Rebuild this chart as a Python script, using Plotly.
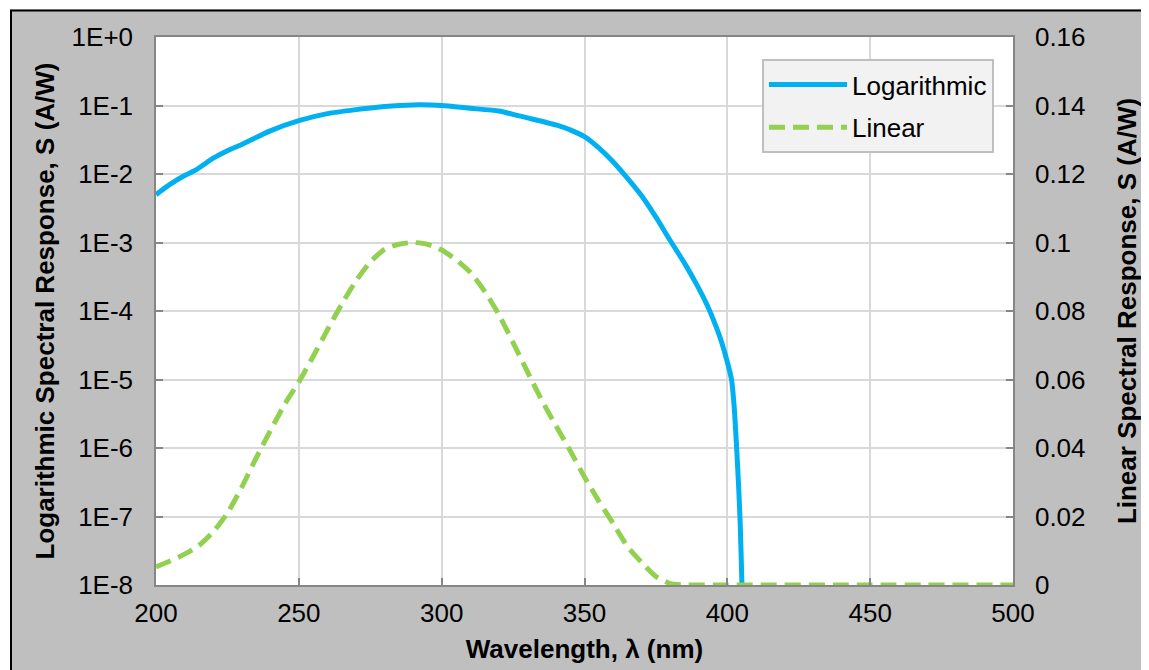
import plotly.graph_objects as go

# ---------------- data ----------------
wavelength_log = [200, 205, 210, 214, 220, 225, 230, 240, 250, 260, 270, 280, 290,
                  300, 310, 320, 330, 340, 345, 350, 355, 360, 365, 370, 375, 380,
                  385, 390, 393, 396, 398, 400, 401.5, 402.5, 403.3, 404, 404.5,
                  405.1, 405.6]
response_log = [5.0e-3, 7.1e-3, 9.5e-3, 1.15e-2, 1.7e-2, 2.19e-2, 2.7e-2, 4.27e-2,
                6.0e-2, 7.6e-2, 8.7e-2, 9.7e-2, 0.102, 0.100, 0.091, 0.083, 0.066,
                0.052, 0.044, 0.035, 0.024, 0.0151, 0.0087, 0.0048, 0.00234,
                0.00107, 5.0e-4, 2.14e-4, 1.2e-4, 6.0e-5, 3.5e-5, 1.8e-5, 9.8e-6,
                3.5e-6, 9.3e-7, 2.5e-7, 8e-8, 1.07e-8, 1e-9]

wavelength_lin = [200, 205, 210, 215, 220, 225, 230, 235, 240, 245, 250, 255, 260,
                  265, 270, 275, 280, 285, 290, 295, 300, 305, 310, 315, 320, 325,
                  330, 335, 340, 345, 350, 355, 360, 365, 370, 375, 380, 385, 400,
                  450, 500]
response_lin = [0.0053, 0.0070, 0.0090, 0.0115, 0.0155, 0.021, 0.0285, 0.037, 0.045,
                0.0527, 0.0593, 0.0667, 0.0745, 0.082, 0.0888, 0.0943, 0.0980,
                0.0995, 0.1000, 0.0995, 0.0978, 0.0950, 0.0913, 0.0858, 0.0790,
                0.0708, 0.0623, 0.0540, 0.0465, 0.0392, 0.0315, 0.0245, 0.0180,
                0.0113, 0.0066, 0.0025, 0.0004, 0.0, 0.0, 0.0, 0.0]

x_tickvals = [200, 250, 300, 350, 400, 450, 500]
log_tickvals = [1e0, 1e-1, 1e-2, 1e-3, 1e-4, 1e-5, 1e-6, 1e-7, 1e-8]
log_ticktext = ["1E+0", "1E-1", "1E-2", "1E-3", "1E-4", "1E-5", "1E-6", "1E-7", "1E-8"]
lin_tickvals = [0, 0.02, 0.04, 0.06, 0.08, 0.1, 0.12, 0.14, 0.16]
lin_ticktext = ["0", "0.02", "0.04", "0.06", "0.08", "0.1", "0.12", "0.14", "0.16"]

# ---------------- layout geometry (figure pixel coords) ----------------
W, H = 1149, 670
L, R, T, B = 148, 1005, 29, 577
PW, PH = R - L, B - T


def px(x):
    return (x - L) / PW


def py(y):
    return (B - y) / PH


FONT = "Liberation Sans, Arial, sans-serif"
FS = 26
GRID = "#d9d9d9"
AXIS = "#868686"
BG = "#bfbfbf"

fig = go.Figure()
fig.add_trace(go.Scatter(
    x=wavelength_log, y=response_log, name="Logarithmic", mode="lines",
    line=dict(color="#00b0f0", width=5, shape="spline", smoothing=0.5),
    yaxis="y", legendgroup="a"))
fig.add_trace(go.Scatter(
    x=wavelength_lin, y=response_lin, name="Linear", mode="lines",
    line=dict(color="#92d050", width=5, dash="16px,8px", shape="spline",
              smoothing=0.6),
    yaxis="y2", legendgroup="b"))

fig.update_layout(
    width=W, height=H,
    margin=dict(l=L, r=W - R, t=T, b=H - B, autoexpand=False),
    paper_bgcolor=BG, plot_bgcolor="white",
    font=dict(family=FONT, size=FS, color="black"),
    xaxis=dict(
        range=[200, 500], tickvals=x_tickvals, showgrid=True, gridcolor=GRID,
        gridwidth=1.5, showline=True, linecolor=AXIS, linewidth=1.5, mirror=True,
        ticks="inside", ticklen=7, tickcolor=AXIS, tickwidth=1.5,
        ticklabelstandoff=4, zeroline=False,
        title=dict(text="<b>Wavelength, λ (nm)</b>", font=dict(size=FS),
                   standoff=13)),
    yaxis=dict(
        type="log", range=[-8, 0], tickvals=log_tickvals, ticktext=log_ticktext,
        showgrid=True, gridcolor=GRID, gridwidth=1.5, showline=True,
        linecolor=AXIS, linewidth=1.5, ticks="inside", ticklen=7,
        tickcolor=AXIS, tickwidth=1.5, ticklabelstandoff=16, zeroline=False,
        title=dict(text="<b>Logarithmic Spectral Response, S (A/W)</b>",
                   font=dict(size=FS), standoff=9)),
    yaxis2=dict(
        overlaying="y", side="right", range=[0, 0.16], tickvals=lin_tickvals,
        ticktext=lin_ticktext, showgrid=False, showline=True, linecolor=AXIS,
        linewidth=1.5, ticks="inside", ticklen=7, tickcolor=AXIS, tickwidth=1.5,
        ticklabelstandoff=15, zeroline=False,
        title=dict(text="<b>Linear Spectral Response, S (A/W)</b>",
                   font=dict(size=FS), standoff=33)),
    legend=dict(
        x=px(754), y=py(51), xanchor="left", yanchor="top",
        bgcolor="#f2f2f2", bordercolor="#bfbfbf", borderwidth=2,
        font=dict(size=FS), itemwidth=78, traceorder="grouped",
        tracegroupgap=6),
    showlegend=True,
)

# outer frame: thin white edge and a black border on the left and top
fig.add_shape(type="rect", xref="paper", yref="paper",
              x0=px(-20), x1=px(2), y0=py(700), y1=py(-20),
              fillcolor="white", line=dict(width=0), layer="above")
fig.add_shape(type="rect", xref="paper", yref="paper",
              x0=px(-20), x1=px(1170), y0=py(1.5), y1=py(-20),
              fillcolor="white", line=dict(width=0), layer="above")
fig.add_shape(type="line", xref="paper", yref="paper",
              x0=px(3), x1=px(3), y0=py(2.5), y1=py(700),
              line=dict(color="black", width=2), layer="above")
fig.add_shape(type="line", xref="paper", yref="paper",
              x0=px(2), x1=px(1170), y0=py(2.5), y1=py(2.5),
              line=dict(color="black", width=2), layer="above")

fig.write_html("out.html",
               post_script="document.body.style.overflow='hidden';")
